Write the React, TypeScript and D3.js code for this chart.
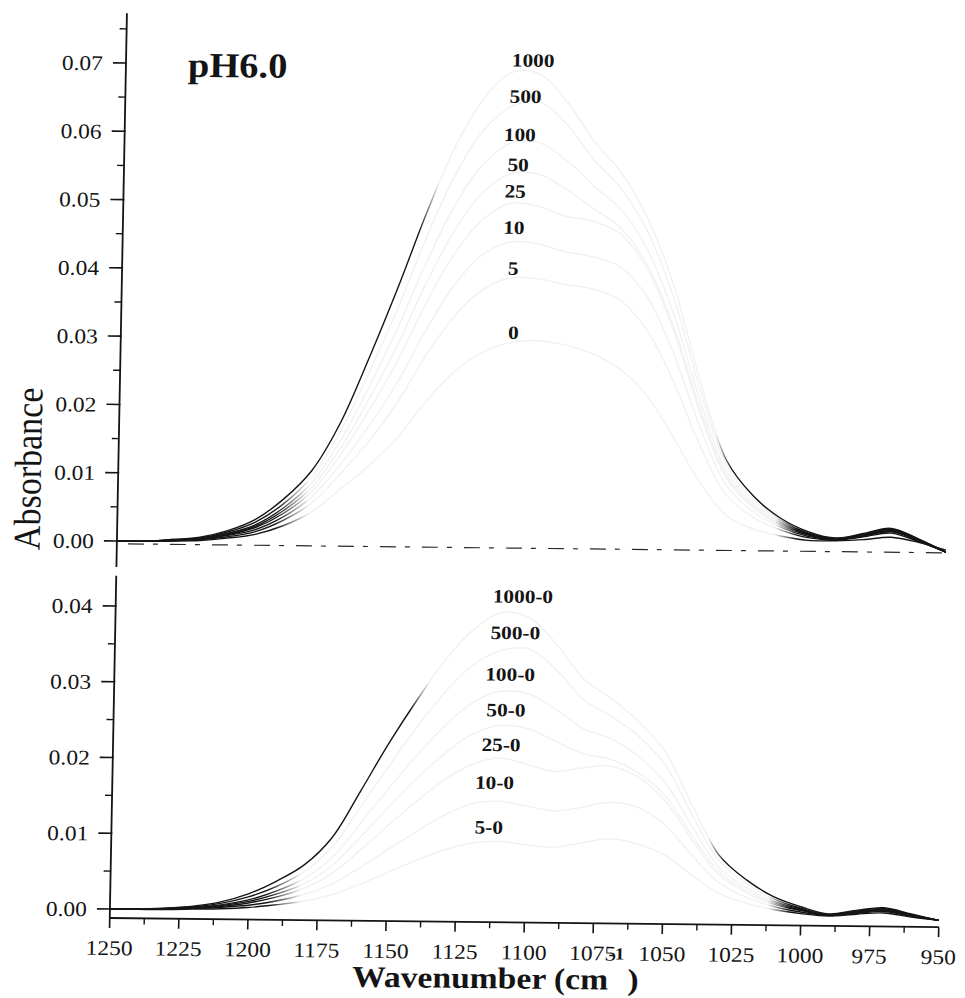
import React from "react";
import * as d3 from "d3";

// ---------- data ----------
const wavenumbers = [
  1250, 1240, 1230, 1220, 1210, 1200, 1190, 1180, 1170, 1160, 1150, 1140, 1130, 1120, 1110, 1100,
  1090, 1080, 1070, 1060, 1050, 1040, 1030, 1020, 1010, 1000, 990, 980, 970, 960, 950,
];

// top panel: adsorbed spectra, pH 6.0
const abs0 = [0, 0, 0.0001, 0.0002, 0.0006, 0.0012, 0.0025, 0.0045, 0.0078, 0.0112, 0.0152, 0.0205, 0.025, 0.028, 0.0296, 0.03, 0.0295, 0.0283, 0.0262, 0.0225, 0.0165, 0.0098, 0.0048, 0.0028, 0.0018, 0.0012, 0.0012, 0.0014, 0.0018, 0.0011, 0];
const abs5 = [0, 0, 0.0001, 0.0003, 0.0008, 0.0016, 0.0033, 0.0058, 0.01, 0.0148, 0.0204, 0.0273, 0.0332, 0.0372, 0.0391, 0.0391, 0.0383, 0.0377, 0.0362, 0.0319, 0.0245, 0.0152, 0.0078, 0.0045, 0.0027, 0.0016, 0.0013, 0.0018, 0.0024, 0.0012, -0.0003];
const abs10 = [0, 0, 0.0002, 0.0004, 0.001, 0.0019, 0.0038, 0.0067, 0.0114, 0.017, 0.0234, 0.0311, 0.0378, 0.0424, 0.0444, 0.0442, 0.0431, 0.0424, 0.041, 0.0367, 0.0285, 0.0178, 0.0092, 0.0053, 0.0031, 0.0018, 0.0014, 0.0019, 0.0026, 0.0013, -0.0003];
const abs25 = [0, 0, 0.0002, 0.0004, 0.0011, 0.0022, 0.0043, 0.0075, 0.0128, 0.0193, 0.0266, 0.0351, 0.0425, 0.0476, 0.0501, 0.0497, 0.0483, 0.0476, 0.0458, 0.0407, 0.0317, 0.0198, 0.0102, 0.0059, 0.0034, 0.002, 0.0014, 0.002, 0.0027, 0.0014, -0.0003];
const abs50 = [0, 0, 0.0002, 0.0005, 0.0012, 0.0024, 0.0047, 0.0081, 0.0138, 0.021, 0.029, 0.0381, 0.046, 0.0516, 0.0544, 0.0544, 0.0523, 0.0495, 0.0467, 0.0413, 0.0323, 0.0204, 0.0106, 0.0062, 0.0036, 0.0021, 0.0015, 0.002, 0.0028, 0.0014, -0.0003];
const abs100 = [0, 0, 0.0002, 0.0005, 0.0013, 0.0026, 0.0051, 0.0088, 0.0149, 0.0228, 0.0315, 0.0412, 0.0497, 0.0558, 0.0589, 0.059, 0.0565, 0.0528, 0.0494, 0.0435, 0.034, 0.0216, 0.0112, 0.0066, 0.0038, 0.0022, 0.0015, 0.0021, 0.0029, 0.0015, -0.0003];
const abs500 = [0, 0, 0.0003, 0.0006, 0.0015, 0.003, 0.0057, 0.0097, 0.0163, 0.025, 0.0345, 0.045, 0.0542, 0.0608, 0.0643, 0.0649, 0.0617, 0.0566, 0.0524, 0.0461, 0.0363, 0.0231, 0.0121, 0.0071, 0.0041, 0.0023, 0.0015, 0.0022, 0.003, 0.0015, -0.0003];
const abs1000 = [0, 0, 0.0003, 0.0007, 0.0017, 0.0034, 0.0064, 0.0106, 0.0176, 0.0272, 0.0376, 0.0487, 0.0585, 0.0655, 0.0693, 0.069, 0.065, 0.0593, 0.0547, 0.048, 0.038, 0.0243, 0.0128, 0.0076, 0.0044, 0.0025, 0.0016, 0.0023, 0.0031, 0.0016, -0.0003];

// bottom panel: difference spectra
const diff5 = [0, 0, 0, 0.0001, 0.0002, 0.0004, 0.0008, 0.0013, 0.0022, 0.0036, 0.0052, 0.0068, 0.0082, 0.0092, 0.0095, 0.0091, 0.0088, 0.0094, 0.01, 0.0094, 0.008, 0.0054, 0.003, 0.0017, 0.0009, 0.0004, 0.0001, 0.0004, 0.0006, 0.0001, -0.0003];
const diff10 = [0, 0, 0.0001, 0.0002, 0.0004, 0.0007, 0.0013, 0.0022, 0.0036, 0.0058, 0.0082, 0.0106, 0.0128, 0.0144, 0.0148, 0.0142, 0.0136, 0.0141, 0.0148, 0.0142, 0.012, 0.008, 0.0044, 0.0025, 0.0013, 0.0006, 0.0002, 0.0005, 0.0008, 0.0002, -0.0003];
const diff25 = [0, 0, 0.0001, 0.0002, 0.0005, 0.001, 0.0018, 0.003, 0.005, 0.0081, 0.0114, 0.0146, 0.0175, 0.0196, 0.0205, 0.0197, 0.0188, 0.0193, 0.0196, 0.0182, 0.0152, 0.01, 0.0054, 0.0031, 0.0016, 0.0008, 0.0002, 0.0006, 0.0009, 0.0003, -0.0003];
const diff50 = [0, 0, 0.0001, 0.0003, 0.0006, 0.0012, 0.0022, 0.0036, 0.006, 0.0098, 0.0138, 0.0176, 0.021, 0.0236, 0.0248, 0.0244, 0.0228, 0.0212, 0.0205, 0.0188, 0.0158, 0.0106, 0.0058, 0.0034, 0.0018, 0.0009, 0.0003, 0.0006, 0.001, 0.0003, -0.0003];
const diff100 = [0, 0, 0.0001, 0.0003, 0.0007, 0.0014, 0.0026, 0.0043, 0.0071, 0.0116, 0.0163, 0.0207, 0.0247, 0.0278, 0.0293, 0.029, 0.027, 0.0245, 0.0232, 0.021, 0.0175, 0.0118, 0.0064, 0.0038, 0.002, 0.001, 0.0003, 0.0007, 0.0011, 0.0004, -0.0003];
const diff500 = [0, 0, 0.0002, 0.0004, 0.0009, 0.0018, 0.0032, 0.0052, 0.0085, 0.0138, 0.0193, 0.0245, 0.0292, 0.0328, 0.0347, 0.0349, 0.0322, 0.0283, 0.0262, 0.0236, 0.0198, 0.0133, 0.0073, 0.0043, 0.0023, 0.0011, 0.0003, 0.0008, 0.0012, 0.0004, -0.0003];
const diff1000 = [0, 0, 0.0002, 0.0005, 0.0011, 0.0022, 0.0039, 0.0061, 0.0098, 0.016, 0.0224, 0.0282, 0.0335, 0.0375, 0.0397, 0.039, 0.0355, 0.031, 0.0285, 0.0255, 0.0215, 0.0145, 0.008, 0.0048, 0.0026, 0.0013, 0.0004, 0.0009, 0.0013, 0.0005, -0.0003];

const topNames = ["0", "5", "10", "25", "50", "100", "500", "1000"];
const topValues = [abs0, abs5, abs10, abs25, abs50, abs100, abs500, abs1000];
const bottomNames = ["5-0", "10-0", "25-0", "50-0", "100-0", "500-0", "1000-0"];
const bottomValues = [diff5, diff10, diff25, diff50, diff100, diff500, diff1000];

// curve labels: anchor wavenumber and absorbance
const topLabelWn = [1108, 1108.5, 1108.5, 1108.3, 1107.4, 1107, 1105.2, 1102.7];
const topLabelAbs = [0.0302, 0.0396, 0.0456, 0.0509, 0.0548, 0.0592, 0.0648, 0.0701];
const bottomLabelWn = [1113.5, 1111.7, 1109.6, 1108.1, 1106.8, 1105.2, 1102.7];
const bottomLabelAbs = [0.0105, 0.0164, 0.0214, 0.026, 0.0307, 0.0362, 0.041];

const xMajorTicks = [1250, 1225, 1200, 1175, 1150, 1125, 1100, 1075, 1050, 1025, 1000, 975, 950];
const xMinorTicks = [1237.5, 1212.5, 1187.5, 1162.5, 1137.5, 1112.5, 1087.5, 1062.5, 1037.5, 1012.5, 987.5, 962.5];
const topYTicks = [0, 0.01, 0.02, 0.03, 0.04, 0.05, 0.06, 0.07];
const topYMinor = [0.005, 0.015, 0.025, 0.035, 0.045, 0.055, 0.065, 0.075];
const botYTicks = [0, 0.01, 0.02, 0.03, 0.04];
const botYMinor = [0.005, 0.015, 0.025, 0.035];

const FONT = "'Liberation Serif', 'Times New Roman', serif";
const SX = 1.12; // horizontal stretch of the scanned lettering
const INK = "#141414";
const FADE = "#f1f1f1";

export default function App() {
  const W = 965;
  const H = 998;
  const x = d3.scaleLinear().domain([1250, 950]).range([117, 946]);
  const yTop = d3.scaleLinear().domain([0, 0.07]).range([545, 67]);
  const yBot = d3.scaleLinear().domain([0, 0.04]).range([913, 610]);
  const axisX = 117;
  const xAxisY = 922;
  const fmt = d3.format(".2f");

  const lineTop = d3
    .line<number>()
    .x((_, i) => x(wavenumbers[i]))
    .y((v) => yTop(v))
    .curve(d3.curveCatmullRom.alpha(0.5));
  const lineBot = d3
    .line<number>()
    .x((_, i) => x(wavenumbers[i]))
    .y((v) => yBot(v))
    .curve(d3.curveCatmullRom.alpha(0.5));

  const off = (wn: number) => (1250 - wn) / 300;
  const gradStops = (a: number, b: number, c: number, d: number) => [
    { o: 0, col: INK },
    { o: off(a), col: INK },
    { o: off(b), col: FADE },
    { o: off(c), col: FADE },
    { o: off(d), col: INK },
    { o: 1, col: INK },
  ];
  const strong = gradStops(1143, 1136, 1034, 1028);
  const weak = gradStops(1193, 1181, 1012, 1004);

  const tickLabel = (txt: string, tx: number, ty: number, anchor: string, key: string, size = 21) => (
    <g key={key} transform={`translate(${tx},${ty})`}>
      <text transform={`scale(${SX},1)`} textAnchor={anchor} fontFamily={FONT} fontSize={size} fill={INK}>
        {txt}
      </text>
    </g>
  );

  return (
    <svg
      width={W}
      height={H}
      viewBox={`0 0 ${W} ${H}`}
      style={{ position: "absolute", left: 0, top: 0, background: "#fff" }}
    >
      <defs>
        <linearGradient id="gStrong" gradientUnits="userSpaceOnUse" x1={x(1250)} y1={0} x2={x(950)} y2={0}>
          {strong.map((s, i) => (
            <stop key={i} offset={s.o} stopColor={s.col} />
          ))}
        </linearGradient>
        <linearGradient id="gWeak" gradientUnits="userSpaceOnUse" x1={x(1250)} y1={0} x2={x(950)} y2={0}>
          {weak.map((s, i) => (
            <stop key={i} offset={s.o} stopColor={s.col} />
          ))}
        </linearGradient>
      </defs>
      <rect x={0} y={0} width={W} height={H} fill="#fff" />
      {/* slight shear of the scanned page */}
      <g transform="matrix(1,0.011,-0.019,1,10.26,-5.28)">
        {/* ---------- top panel ---------- */}
        <line x1={axisX} x2={axisX} y1={yTop(0.0773)} y2={yTop(-0.0038)} stroke={INK} strokeWidth={1.8} />
        {topYTicks.map((t) => (
          <line key={"tt" + t} x1={axisX - 13} x2={axisX + 1} y1={yTop(t)} y2={yTop(t)} stroke={INK} strokeWidth={1.6} />
        ))}
        {topYMinor.map((t) => (
          <line key={"tm" + t} x1={axisX - 7} x2={axisX} y1={yTop(t)} y2={yTop(t)} stroke={INK} strokeWidth={1.4} />
        ))}
        {topYTicks.map((t) => tickLabel(fmt(t), 94, yTop(t) + 7.5, "end", "tl" + t))}
        <line
          x1={x(1246)}
          x2={x(950)}
          y1={yTop(-0.0004)}
          y2={yTop(-0.0004)}
          stroke="#2a2a2a"
          strokeWidth={1.2}
          strokeDasharray="16 9 5 12"
        />
        {topValues.map((vals, i) => (
          <path
            key={"top" + topNames[i]}
            d={lineTop(vals) || ""}
            fill="none"
            stroke={topNames[i] === "1000" ? "url(#gStrong)" : "url(#gWeak)"}
            strokeWidth={1.4}
          />
        ))}
        {topNames.map((n, i) => (
          <g key={"tlab" + n} transform={`translate(${x(topLabelWn[i])},${yTop(topLabelAbs[i])})`}>
            <text transform={`scale(${SX},1)`} textAnchor="middle" fontFamily={FONT} fontWeight="bold" fontSize={19} fill={INK}>
              {n}
            </text>
          </g>
        ))}
        <g transform="translate(179,80)">
          <text transform="scale(1.1,1)" fontFamily={FONT} fontWeight="bold" fontSize={35} fill={INK}>
            pH6.0
          </text>
        </g>

        {/* ---------- bottom panel ---------- */}
        <line x1={axisX} x2={axisX} y1={yBot(0.044)} y2={xAxisY} stroke={INK} strokeWidth={1.8} />
        {botYTicks.map((t) => (
          <line key={"bt" + t} x1={axisX - 13} x2={axisX + 1} y1={yBot(t)} y2={yBot(t)} stroke={INK} strokeWidth={1.6} />
        ))}
        {botYMinor.map((t) => (
          <line key={"bm" + t} x1={axisX - 7} x2={axisX} y1={yBot(t)} y2={yBot(t)} stroke={INK} strokeWidth={1.4} />
        ))}
        {botYTicks.map((t) => tickLabel(fmt(t), 94, yBot(t) + 7.5, "end", "bl" + t))}
        <line x1={x(1250)} x2={x(950)} y1={xAxisY} y2={xAxisY} stroke={INK} strokeWidth={1.8} />
        {xMajorTicks.map((t) => (
          <line key={"xt" + t} x1={x(t)} x2={x(t)} y1={xAxisY} y2={xAxisY + 10} stroke={INK} strokeWidth={1.6} />
        ))}
        {xMinorTicks.map((t) => (
          <line key={"xm" + t} x1={x(t)} x2={x(t)} y1={xAxisY} y2={xAxisY + 6} stroke={INK} strokeWidth={1.4} />
        ))}
        {xMajorTicks.map((t) => tickLabel(String(t), x(t), 959, "middle", "xl" + t))}
        {bottomValues.map((vals, i) => (
          <path
            key={"bot" + bottomNames[i]}
            d={lineBot(vals) || ""}
            fill="none"
            stroke={bottomNames[i] === "1000-0" ? "url(#gStrong)" : "url(#gWeak)"}
            strokeWidth={1.4}
          />
        ))}
        {bottomNames.map((n, i) => (
          <g key={"blab" + n} transform={`translate(${x(bottomLabelWn[i])},${yBot(bottomLabelAbs[i])})`}>
            <text transform={`scale(${SX},1)`} textAnchor="middle" fontFamily={FONT} fontWeight="bold" fontSize={19} fill={INK}>
              {n}
            </text>
          </g>
        ))}

        {/* ---------- axis titles ---------- */}
        <g transform="translate(39.7,473.8) rotate(-90) scale(1,1.12)">
          <text textAnchor="middle" fontFamily={FONT} fontSize={34} fill={INK}>
            Absorbance
          </text>
        </g>
        <g transform="translate(360.5,988) scale(1.12,1)">
          <text fontFamily={FONT} fontWeight="bold" fontSize={30} fill={INK}>
            Wavenumber (cm
            <tspan dy={-30} fontSize={17}>
              -1
            </tspan>
            <tspan dy={30} dx={3}>
              )
            </tspan>
          </text>
        </g>
      </g>
    </svg>
  );
}
